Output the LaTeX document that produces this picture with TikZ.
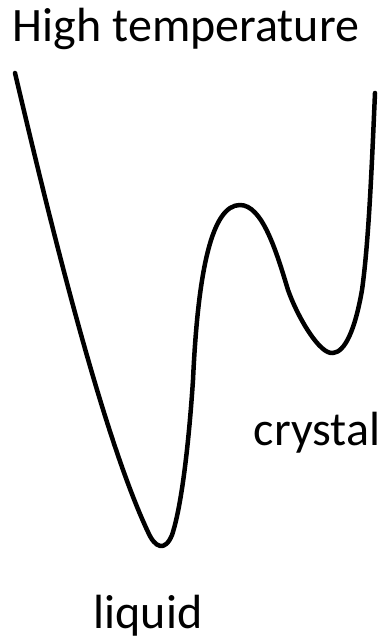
\documentclass[tikz,border=0pt]{standalone}
\usepackage{fontspec}
\setmainfont{Carlito}
\begin{document}
\begin{tikzpicture}[x=1pt,y=-1pt,
  lbl/.style={font=\fontsize{48}{52}\selectfont, inner sep=0pt, anchor=base},
  curve/.style={line width=4.5pt, line cap=round, line join=round}]
\useasboundingbox (0,0) rectangle (385,644);
\node[lbl] (ht) at (186,42) {High temperature};
\node[lbl] (cr) at (317,445) {crystal};
\node[lbl] (lq) at (148,628) {liquid};
\draw[curve] (15,73) .. controls (45,200) and (100,430) .. (148,532)
  .. controls (155,548) and (165,552) .. (172,535)
  .. controls (182,505) and (189,440) .. (193,380)
  .. controls (198,270) and (212,205) .. (240,205)
  .. controls (262,205) and (276,250) .. (288,290)
  .. controls (298,318) and (320,355) .. (333,353)
  .. controls (345,352) and (355,330) .. (362,290)
  .. controls (369,240) and (372,160) .. (375,93);
\end{tikzpicture}
\end{document}
